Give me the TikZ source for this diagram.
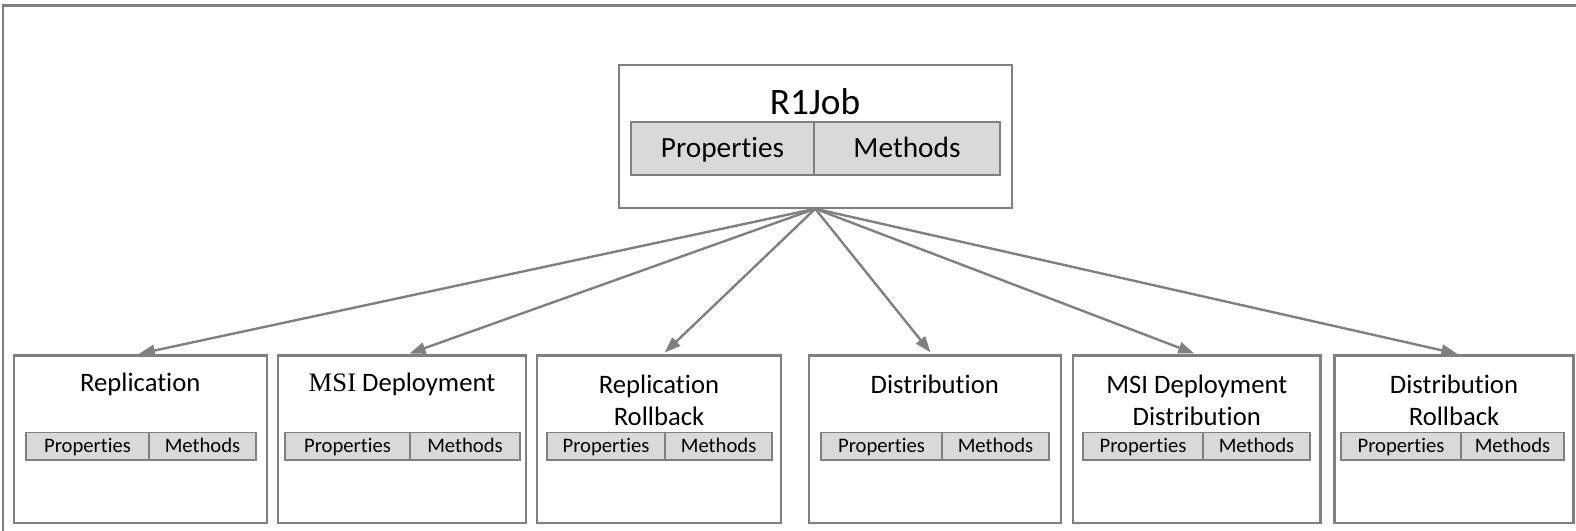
\documentclass[tikz,border=0pt]{standalone}
\usepackage{fontspec}
\setmainfont{Carlito}[Ligatures=NoCommon]
\newfontfamily\msiserif{Liberation Serif}
\usetikzlibrary{arrows.meta,fit}

\definecolor{linegray}{RGB}{128,128,128}
\definecolor{cellgray}{RGB}{217,217,217}

\tikzset{every picture/.style={line width=0.75pt}}
\tikzset{
  classbox/.style={draw=linegray, line width=1.6pt, fill=white, inner sep=0pt},
  cell/.style={draw=linegray, line width=1.4pt, fill=cellgray, inner sep=0pt, minimum height=20.5pt, text height=13pt, text depth=3pt, font=\fontsize{15.5}{18}\selectfont},
  bigcell/.style={cell, minimum height=39.75pt, text height=17.2pt, text depth=3pt, font=\fontsize{22}{26}\selectfont},
  classname/.style={font=\fontsize{20}{24}\selectfont, align=center, inner sep=0pt},
  inherit/.style={draw=linegray, line width=1.8pt, -{Triangle[length=12pt,width=8.5pt]}, shorten >=2pt},
}

\begin{document}
\begin{tikzpicture}[x=0.75pt,y=0.75pt,yscale=-1,xscale=1]
	\useasboundingbox (0,0) rectangle (1576,531);

	%Straight Lines: outer frame
	\draw [linegray, line width=2pt] (1576,5.5) -- (3,5.5) -- (3,531) ;

	%Shape: Rectangle R1Job
	\node [classbox, fit={(618.7,65) (1011.7,207.7)}] (job) {};
	% Text Node
	\node [font=\fontsize{28}{32}\selectfont, inner sep=0pt] (jobname) at (815,102) {R1Job};
	\node [bigcell, minimum width=137.25pt] (jobprop) at (722.5,148.4) {Properties};
	\node [bigcell, minimum width=139.5pt] (jobmeth) at (907,148.4) {Methods};

	%Shape: Rectangle Replication
	\node [classbox, fit={(13.6,355.5) (267,523)}] (rep) {};
	\node [classname] (repname) at (140.3,384) {Replication};
	\node [cell, minimum width=92.25pt] (repprop) at (87.5,446.2) {Properties};
	\node [cell, minimum width=80.25pt] (repmeth) at (202.5,446.2) {Methods};

	%Shape: Rectangle MSI Deployment
	\node [classbox, fit={(278,355.5) (526,523)}] (msi) {};
	\node [classname] (msiname) at (402,384) {{\msiserif MSI} Deployment};
	\node [cell, minimum width=93.75pt] (msiprop) at (347.5,446.2) {Properties};
	\node [cell, minimum width=82.5pt] (msimeth) at (465,446.2) {Methods};

	%Shape: Rectangle Replication Rollback
	\node [classbox, fit={(537,355.5) (780.7,523)}] (reprb) {};
	\node [classname] (reprbname) at (659,400) {Replication\\Rollback};
	\node [cell, minimum width=88.5pt] (reprbprop) at (606,446.2) {Properties};
	\node [cell, minimum width=80.25pt] (reprbmeth) at (718.6,446.2) {Methods};

	%Shape: Rectangle Distribution
	\node [classbox, fit={(808.7,355.5) (1061,523)}] (dist) {};
	\node [classname] (distname) at (934.8,384) {Distribution};
	\node [cell, minimum width=90.75pt] (distprop) at (881.5,446.2) {Properties};
	\node [cell, minimum width=80.25pt] (distmeth) at (995.5,446.2) {Methods};

	%Shape: Rectangle MSI Deployment Distribution
	\node [classbox, fit={(1073,355.5) (1320.5,523)}] (msidist) {};
	\node [classname] (msidistname) at (1196.8,400) {MSI Deployment\\Distribution};
	\node [cell, minimum width=90pt] (msidistprop) at (1143,446.2) {Properties};
	\node [cell, minimum width=80.25pt] (msidistmeth) at (1256.5,446.2) {Methods};

	%Shape: Rectangle Distribution Rollback
	\node [classbox, fit={(1334.5,355.5) (1573.5,523)}] (distrb) {};
	\node [classname] (distrbname) at (1454,400) {Distribution\\Rollback};
	\node [cell, minimum width=90pt] (distrbprop) at (1401,446.2) {Properties};
	\node [cell, minimum width=77.25pt] (distrbmeth) at (1512.5,446.2) {Methods};

	%Straight Lines: inheritance arrows
	\draw [inherit] (job.south) -- ([xshift=-3pt]rep.north) ;
	\draw [inherit] (job.south) -- ([xshift=3.75pt]msi.north) ;
	\draw [inherit] (job.south) -- ([xshift=3pt]reprb.north) ;
	\draw [inherit] (job.south) -- ([xshift=-2pt]dist.north) ;
	\draw [inherit] (job.south) -- (msidist.north) ;
	\draw [inherit] (job.south) -- ([xshift=4.5pt]distrb.north) ;

\end{tikzpicture}
\end{document}
